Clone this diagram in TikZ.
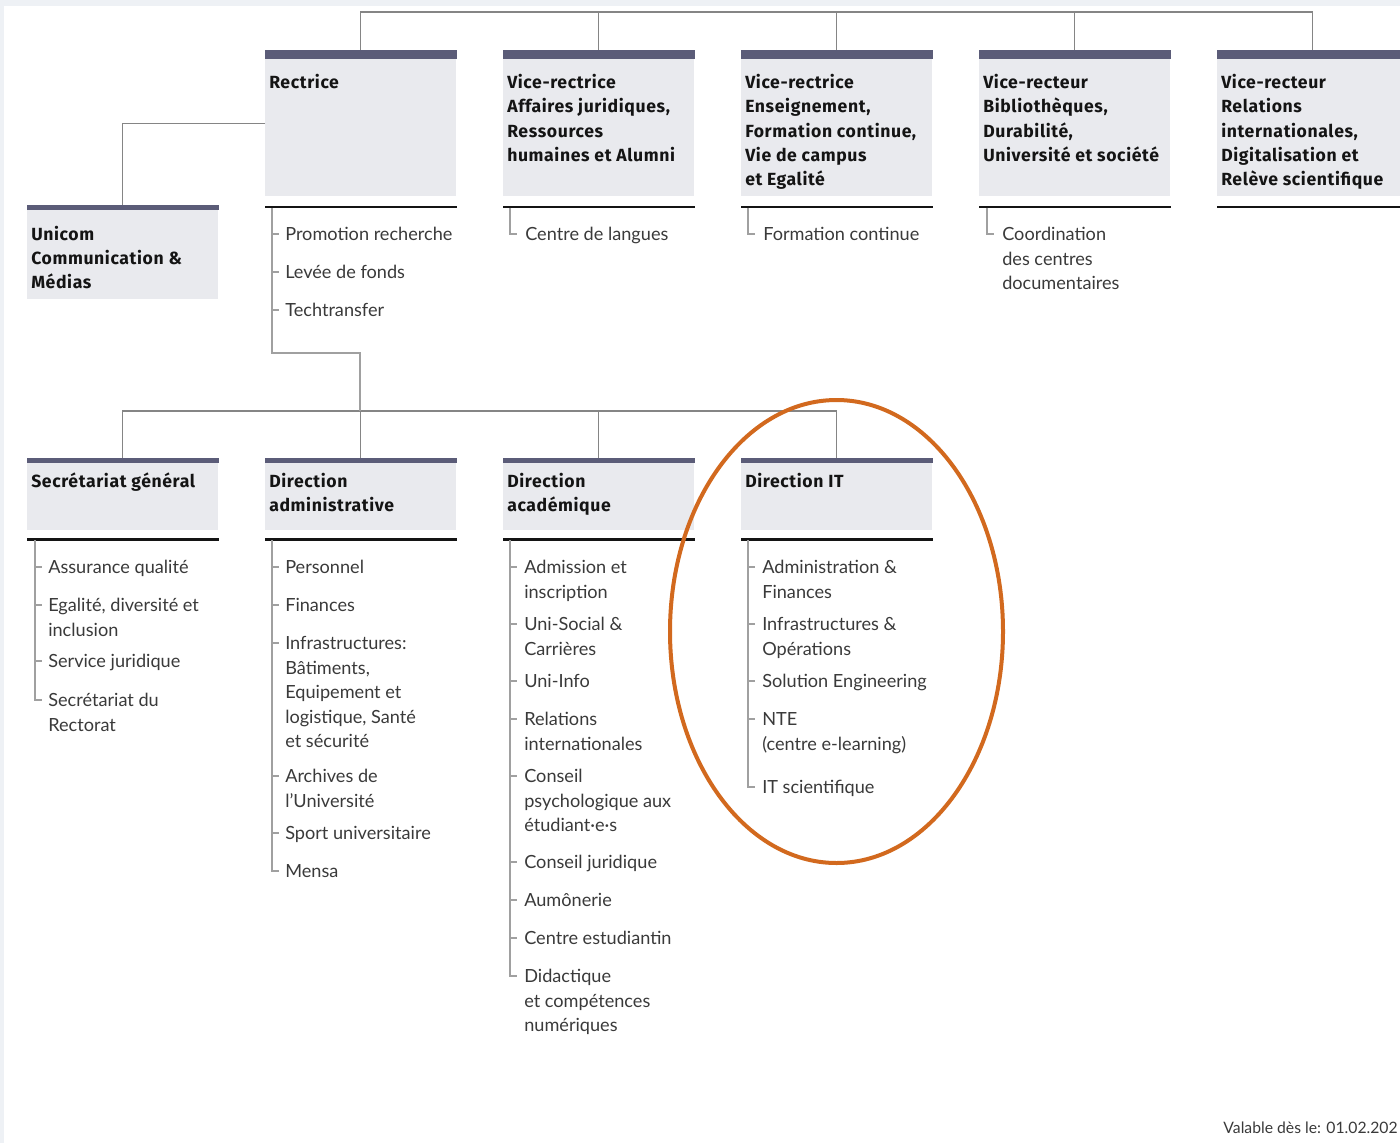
\documentclass[tikz,border=0pt]{standalone}
\usepackage{fontspec}
\setmainfont{Lato}
\newfontfamily\hdrfont[LetterSpace=3.5]{Fira Sans}
\usetikzlibrary{shapes.geometric}
\definecolor{barc}{HTML}{5B5C78}
\definecolor{boxc}{HTML}{E9EAEE}
\definecolor{connc}{HTML}{858585}
\definecolor{listc}{HTML}{A0A0A0}
\definecolor{txtc}{HTML}{3A3A3A}
\definecolor{hdrc}{HTML}{141414}
\definecolor{orng}{HTML}{D2691E}
\definecolor{margc}{HTML}{EEF1F5}
\newcommand\mylines[1]{\begin{tabular}[t]{@{}l@{}}#1\end{tabular}}
\begin{document}
\begin{tikzpicture}[x=0.75pt,y=-0.75pt,
  topbox/.style={fill=boxc, inner sep=0, minimum width=143.25pt, minimum height=109.5pt, anchor=north west},
  unibox/.style={fill=boxc, inner sep=0, minimum width=143.25pt, minimum height=70.5pt, anchor=north west},
  lowbox/.style={fill=boxc, inner sep=0, minimum width=143.25pt, minimum height=54pt, anchor=north west},
  hdr/.style={anchor=base west, inner sep=0, text=hdrc, font=\hdrfont\fontsize{13.2}{18.2}\selectfont\bfseries},
  item/.style={anchor=base west, inner sep=0, text=txtc, font=\fontsize{13.6}{18.4}\selectfont},
  conn/.style={draw=connc, line width=1pt},
  listl/.style={draw=listc, line width=1pt},
  uline/.style={draw=hdrc, line width=2pt},
]
\useasboundingbox (0,0) rectangle (1400,1143);
\clip (0,0) rectangle (1400,1143);
\fill[margc] (0,0) rectangle (1400,1143);
\fill[white] (4,6) rectangle (1400,1143);

% ---------- top row boxes ----------
\node[topbox] (rect) at (265,50) {};
\node[topbox] (vr1) at (503,50) {};
\node[topbox] (vr2) at (741,50) {};
\node[topbox] (vr3) at (979,50) {};
\node[topbox] (vr4) at (1217,50) {};
\foreach \b in {rect,vr1,vr2,vr3,vr4}{
  \fill[barc] (\b.north west) rectangle ([yshift=-6.5pt]\b.north east);
}
\node[unibox] (uni) at (27,205) {};
\fill[barc] (uni.north west) rectangle ([yshift=-3.75pt]uni.north east);

% ---------- lower row boxes ----------
\node[lowbox] (sg) at (27,458) {};
\node[lowbox] (dad) at (265,458) {};
\node[lowbox] (dac) at (503,458) {};
\node[lowbox] (dit) at (741,458) {};
\foreach \b in {sg,dad,dac,dit}{
  \fill[barc] (\b.north west) rectangle ([yshift=-3.75pt]\b.north east);
}

% ---------- connectors ----------
\coordinate (topbus) at (360,12);
\draw[conn] (rect.north) |- (topbus) -| (vr4.north);
\draw[conn] (vr1.north) -- (vr1.north |- topbus);
\draw[conn] (vr2.north) -- (vr2.north |- topbus);
\draw[conn] (vr3.north) -- (vr3.north |- topbus);
\draw[conn] (rect.west) -| (uni.north);
\coordinate (lowbus) at (360,411);
\draw[conn] (sg.north) |- (lowbus) -| (dit.north);
\draw[conn] (dad.north) -- (dad.north |- lowbus);
\draw[conn] (dac.north) -- (dac.north |- lowbus);
\coordinate (rlist) at (272,207.5);
\draw[listl] (rlist) -- (272,353) -| (lowbus);

% ---------- underlines ----------
\foreach \b in {rect,vr1,vr2,vr3,vr4}{
  \draw[uline] ([yshift=-7.9pt]\b.south west) -- ([yshift=-7.9pt]\b.south east);
}
\foreach \b in {sg,dad,dac,dit}{
  \draw[uline] ([yshift=-6.6pt]\b.south west) -- ([yshift=-6.6pt]\b.south east);
}

% ---------- headers ----------
\node[hdr] (rect-t) at (269,88.5) {Rectrice};
\node[hdr] (vr1-t) at (507,88.5) {\mylines{Vice-rectrice\\Affaires juridiques,\\Ressources\\humaines et Alumni}};
\node[hdr] (vr2-t) at (745,88.5) {\mylines{Vice-rectrice\\Enseignement,\\Formation continue,\\Vie de campus\\et Egalité}};
\node[hdr] (vr3-t) at (983,88.5) {\mylines{Vice-recteur\\Bibliothèques,\\Durabilité,\\Université et société}};
\node[hdr] (vr4-t) at (1221,88.5) {\mylines{Vice-recteur\\Relations\\internationales,\\Digitalisation et\\Relève scientifique}};
\node[hdr] (uni-t) at (31,240) {\mylines{Unicom\\Communication \&\\Médias}};
\node[hdr] (sg-t) at (31,487.5) {Secrétariat général};
\node[hdr] (dad-t) at (269,487.5) {\mylines{Direction\\administrative}};
\node[hdr] (dac-t) at (507,487.5) {\mylines{Direction\\académique}};
\node[hdr] (dit-t) at (745,487.5) {Direction IT};

% ---------- Rectrice list ----------
\foreach \c/\tx [count=\i] in {234/Promotion recherche, 272/Levée de fonds, 310/Techtransfer}{
  \node[item] (ra\i) at (285,\c+6.5) {\tx};
  \draw[listl] (272,\c) -- (279,\c);
}
% single-item lists
\node[item] (cl) at (525,240.5) {Centre de langues};
\draw[listl] (510,207.5) |- (517,234);
\node[item] (fc) at (763,240.5) {Formation continue};
\draw[listl] (748,207.5) |- (755,234);
\node[item] (cd) at (1002,240.5) {\mylines{Coordination\\des centres\\documentaires}};
\draw[listl] (987,207.5) |- (994,234);

% ---------- Secrétariat général list ----------
\foreach \c/\tx [count=\i] in {567/Assurance qualité, 605/{\mylines{Egalité, diversité et\\inclusion}}, 661/Service juridique}{
  \node[item] (sa\i) at (48,\c+6.5) {\tx};
  \draw[listl] (35,\c) -- (42,\c);
}
\node[item] (sa4) at (48,706.5) {\mylines{Secrétariat du\\Rectorat}};
\draw[listl] (35,540) |- (42,700);

% ---------- Direction administrative list ----------
\foreach \c/\tx [count=\i] in {567/Personnel, 605/Finances, 643/{\mylines{Infrastructures:\\Bâtiments,\\Equipement et\\logistique, Santé\\et sécurité}}, 776/{\mylines{Archives de\\l’Université}}, 833/Sport universitaire}{
  \node[item] (da\i) at (285,\c+6.5) {\tx};
  \draw[listl] (272,\c) -- (279,\c);
}
\node[item] (da6) at (285,877.5) {Mensa};
\draw[listl] (272,540) |- (279,871);

% ---------- Direction académique list ----------
\foreach \c/\tx [count=\i] in {567/{\mylines{Admission et\\inscription}}, 624/{\mylines{Uni-Social \&\\Carrières}}, 681/Uni-Info, 719/{\mylines{Relations\\internationales}}, 776/{\mylines{Conseil\\psychologique aux\\étudiant·e·s}}, 862/Conseil juridique, 900/Aumônerie, 938/Centre estudiantin}{
  \node[item] (ac\i) at (524,\c+6.5) {\tx};
  \draw[listl] (510,\c) -- (517,\c);
}
\node[item] (ac9) at (524,982.5) {\mylines{Didactique\\et compétences\\numériques}};
\draw[listl] (510,540) |- (517,976);

% ---------- Direction IT list ----------
\foreach \c/\tx [count=\i] in {567/{\mylines{Administration \&\\Finances}}, 624/{\mylines{Infrastructures \&\\Opérations}}, 681/Solution Engineering, 719/{\mylines{NTE\\(centre e-learning)}}}{
  \node[item] (it\i) at (762,\c+6.5) {\tx};
  \draw[listl] (748,\c) -- (755,\c);
}
\node[item] (it5) at (762,793.5) {IT scientifique};
\draw[listl] (748,540) |- (755,787);

% ---------- highlight ----------
\node[draw=orng, line width=3pt, ellipse, inner sep=0, minimum width=249.75pt, minimum height=347.25pt] (hl) at (836.5,631.5) {};

% ---------- footer ----------
\node[anchor=base east, inner sep=0, text=txtc, font=\fontsize{11.8}{14}\selectfont] (foot) at (1398,1133.5) {Valable dès le: 01.02.202};
\end{tikzpicture}
\end{document}
